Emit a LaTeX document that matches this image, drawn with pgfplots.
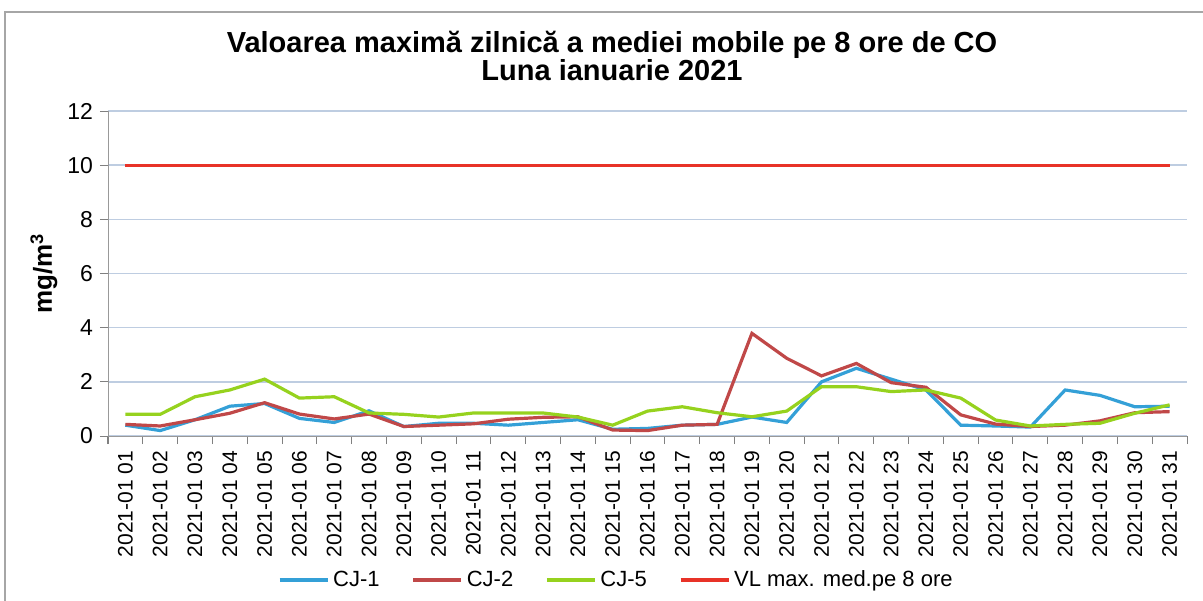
\documentclass[border=0pt]{standalone}
\usepackage{pgfplots}
\pgfplotsset{compat=1.18}
\usepackage{fontspec}
\setmainfont{Liberation Sans}
\definecolor{cjone}{RGB}{52,160,215}
\definecolor{cjtwo}{RGB}{192,72,72}
\definecolor{cjfive}{RGB}{150,210,30}
\definecolor{vlred}{RGB}{232,50,40}
\definecolor{gridc}{RGB}{190,205,225}
\begin{document}
\begin{tikzpicture}
\useasboundingbox (-54pt,-82pt) rectangle (547.5pt,218pt);
\draw[gray!70, line width=0.8pt] (-51.5pt,-85pt) rectangle (552pt,212pt);
\begin{axis}[
  at={(0pt,0pt)}, anchor=south west,
  scale only axis, width=539.5pt, height=162.5pt,
  xmin=0.5, xmax=31.5, ymin=0, ymax=12,
  ytick={0,2,...,12},
  xtick={1,...,31},
  xticklabels={2021-01 01,2021-01 02,2021-01 03,2021-01 04,2021-01 05,2021-01 06,2021-01 07,2021-01 08,2021-01 09,2021-01 10,2021-01 11,2021-01 12,2021-01 13,2021-01 14,2021-01 15,2021-01 16,2021-01 17,2021-01 18,2021-01 19,2021-01 20,2021-01 21,2021-01 22,2021-01 23,2021-01 24,2021-01 25,2021-01 26,2021-01 27,2021-01 28,2021-01 29,2021-01 30,2021-01 31},
  x tick label style={rotate=90, anchor=east, font=\fontsize{10.5}{12}\selectfont},
  y tick label style={font=\fontsize{11.5}{12}\selectfont},
  /pgf/number format/assume math mode=true,
  major x tick style={draw=none},
  minor xtick={0.5,1.5,...,31.5},
  minor tick length=4pt,
  major tick length=4pt,
  tick align=outside,
  tick style={gray, line width=0.5pt},
  xtick pos=bottom, ytick pos=left,
  ymajorgrids, grid style={gridc, line width=0.8pt},
  axis line style={gray!80},
  axis x line*=bottom, axis y line*=left,
  ylabel={\textbf{mg/m$^{\mathbf 3}$}},
  ylabel style={font=\fontsize{13}{15}\selectfont, at={(-32pt,81.25pt)}, anchor=center, rotate=0},
  legend columns=4,
  legend style={draw=none, fill=none, at={(0.472,-0.443)}, anchor=center,
    font=\fontsize{11}{13}\selectfont, /tikz/every even column/.append style={column sep=14pt}},
  legend image code/.code={\draw[#1, line width=1.6pt] (0pt,0pt) -- (24pt,0pt);},
  clip=false,
]
\addplot[cjone, line width=1.6pt] coordinates {
(1,0.4)(2,0.2)(3,0.6)(4,1.1)(5,1.2)(6,0.65)(7,0.5)(8,0.93)(9,0.35)(10,0.47)
(11,0.47)(12,0.4)(13,0.5)(14,0.6)(15,0.25)(16,0.28)(17,0.4)(18,0.43)(19,0.7)(20,0.5)
(21,2.0)(22,2.5)(23,2.1)(24,1.7)(25,0.4)(26,0.37)(27,0.33)(28,1.7)(29,1.5)(30,1.08)(31,1.1)};
\addlegendentry{CJ-1}
\addplot[cjtwo, line width=1.6pt] coordinates {
(1,0.43)(2,0.37)(3,0.6)(4,0.84)(5,1.23)(6,0.81)(7,0.63)(8,0.81)(9,0.35)(10,0.4)
(11,0.45)(12,0.62)(13,0.69)(14,0.71)(15,0.22)(16,0.2)(17,0.4)(18,0.43)(19,3.79)(20,2.87)
(21,2.22)(22,2.68)(23,1.97)(24,1.8)(25,0.78)(26,0.44)(27,0.35)(28,0.4)(29,0.56)(30,0.86)(31,0.9)};
\addlegendentry{CJ-2}
\addplot[cjfive, line width=1.6pt] coordinates {
(1,0.8)(2,0.8)(3,1.45)(4,1.7)(5,2.1)(6,1.4)(7,1.45)(8,0.85)(9,0.8)(10,0.7)
(11,0.85)(12,0.85)(13,0.85)(14,0.7)(15,0.4)(16,0.92)(17,1.08)(18,0.86)(19,0.71)(20,0.92)
(21,1.82)(22,1.82)(23,1.64)(24,1.7)(25,1.4)(26,0.59)(27,0.37)(28,0.43)(29,0.47)(30,0.84)(31,1.15)};
\addlegendentry{CJ-5}
\addplot[vlred, line width=1.6pt] coordinates {
(1,10)(2,10)(3,10)(4,10)(5,10)(6,10)(7,10)(8,10)(9,10)(10,10)
(11,10)(12,10)(13,10)(14,10)(15,10)(16,10)(17,10)(18,10)(19,10)(20,10)
(21,10)(22,10)(23,10)(24,10)(25,10)(26,10)(27,10)(28,10)(29,10)(30,10)(31,10)};
\addlegendentry{VL max. med.pe 8 ore}
\end{axis}
\node[align=center, font=\bfseries\fontsize{14.5}{14}\selectfont] at (252pt,190pt) {Valoarea maximă zilnică a mediei mobile pe 8 ore de CO\\Luna ianuarie 2021};
\end{tikzpicture}
\end{document}
